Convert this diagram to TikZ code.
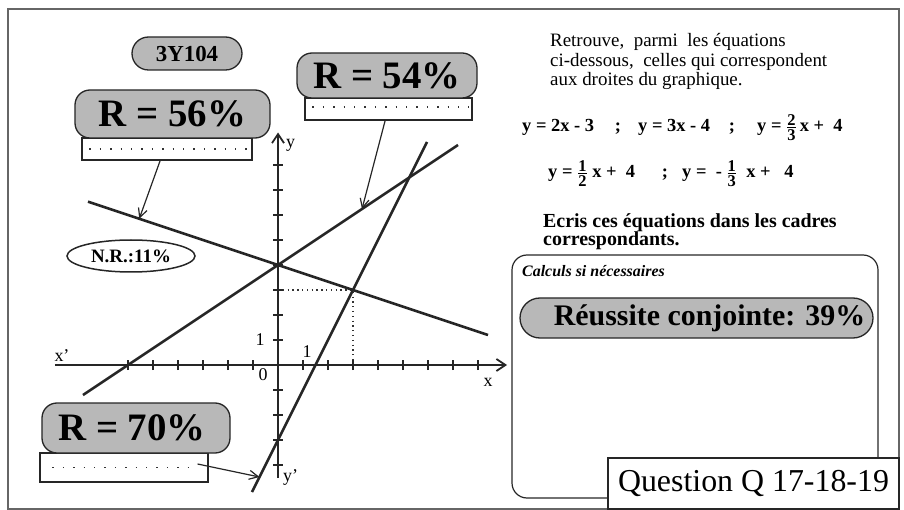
\documentclass[tikz,border=0pt]{standalone}
\usepackage{fontspec}
\setmainfont{Liberation Serif}
\usetikzlibrary{arrows.meta,calc,shapes.geometric}
\newcommand\fsz[1]{\fontsize{#1}{#1}\selectfont}
\newcommand\myfr[2]{${\hbox{\fsz{16.5}\bfseries #1}\above 1pt\hbox{\fsz{16.5}\bfseries #2}}$}
\tikzset{
  ink/.style={draw=black!85},
  pill/.style={ink, line width=1.3bp, fill=black!28, rounded corners=#1, inner sep=0pt, font=\fsz{39}\bfseries},
  pill/.default=15bp,
  wbox/.style={ink, line width=1.2bp, fill=white, inner sep=0pt},
  dots/.style={draw=black!80, line width=1.4bp, dash pattern=on 1.4bp off 9bp},
  gline/.style={ink, line width=2.6bp},
  axisline/.style={ink, line width=2.2bp, -{Straight Barb[length=9bp,width=12bp,line width=1.8bp]}},
  tickmark/.style={ink, line width=2.2bp},
  pointer/.style={ink, line width=1.2bp, -{Straight Barb[length=9bp,width=9bp,line width=1.2bp]}},
  txt/.style={inner sep=0pt, font=\fsz{19}},
  eqf/.style={inner sep=0pt, font=\fsz{18.5}\bfseries},
  lab/.style={inner sep=0pt, font=\fsz{18}},
}
\begin{document}
\begin{tikzpicture}[x=1bp,y=-1bp]
\useasboundingbox (0,0) rectangle (904,510);
% outer frame
\node[draw=black!60, line width=2bp, minimum width=891bp, minimum height=500bp, inner sep=0pt] (frame) at (453.5,259) {};

% ---------- graph ----------
\begin{scope}[shift={(278,365)}, x=25bp, y=25bp]
  \coordinate (O) at (0,0);
  \coordinate (xl) at (-8.92,0);
  \coordinate (xr) at (9.16,0);
  \coordinate (yb) at (0,-4.52);
  \coordinate (yt) at (0,9.3);
  % dotted helper lines
  \coordinate (d0) at (0,3);
  \coordinate (d1) at (3,3);
  \coordinate (d2) at (3,0);
  \draw[draw=black!80, line width=1.2bp, dash pattern=on 1.3bp off 3.5bp] (d0) -- (d1) -- (d2);
  % axes
  \draw[axisline] (xl) -- (xr);
  \draw[axisline] (yb) -- (yt);
  \foreach \i in {-6,...,-1,1,2,...,8} \draw[tickmark] (\i,-0.2) -- (\i,0.2);
  \foreach \j in {-4,...,-1,1,2,...,8} \draw[tickmark] (-0.2,\j) -- (0.2,\j);
  % lines
  \coordinate (a1) at (-7.6,6.5333);
  \coordinate (a2) at (8.4,1.2);
  \coordinate (b1) at (-7.8,-1.2);
  \coordinate (b2) at (7.2,8.8);
  \coordinate (c1) at (-1.04,-5.08);
  \coordinate (c2) at (5.96,8.92);
  \draw[gline] (a1) -- (a2);
  \draw[gline] (b1) -- (b2);
  \draw[gline] (c1) -- (c2);
  % pointer targets
  \coordinate (pA) at (-5.55,5.85);
  \coordinate (pB) at (3.36,6.24);
  \coordinate (pC) at (-0.74,-4.48);
  % axis labels
  \node[lab] (l1y) at (-0.72,1) {1};
  \node[lab] (l1x) at (1.16,0.52) {1};
  \node[lab] (l0) at (-0.6,-0.4) {0};
  \node[lab] (lxp) at (-8.64,0.36) {x'};
  \node[lab] (lx) at (8.4,-0.68) {x};
  \node[lab] (ly) at (0.5,8.8) {y};
  \node[lab] (lyp) at (0.5,-4.5) {y'};
\end{scope}

% ---------- left labels ----------
\node[pill=16.5bp, minimum width=110bp, minimum height=33bp, font=\fsz{23}\bfseries] (id) at (187,53.5) {3Y104};

\node[wbox, minimum width=170bp, minimum height=22bp] (w56) at (167,149) {};
\node[pill, minimum width=195bp, minimum height=48bp] (r56) at (172.5,114) {R = 56\%};
\draw[dots] ($(w56.west)+(8,0)$) -- ($(w56.east)+(-5,0)$);

\node[wbox, minimum width=167bp, minimum height=22bp] (w54) at (388.5,109) {};
\node[pill, minimum width=180bp, minimum height=45bp] (r54) at (387,75.5) {R = 54\%};
\draw[dots] ($(w54.west)+(8,-2)$) -- ($(w54.east)+(-4,-2)$);

\node[wbox, minimum width=168bp, minimum height=29bp] (w70) at (124,467.5) {};
\node[pill, minimum width=188bp, minimum height=50bp] (r70) at (136,428) {R = 70\%\hspace*{8bp}};
\draw[dots] ($(w70.west)+(13,0)$) -- ($(w70.east)+(-15,0)$);
\coordinate (s70) at ($(w70.east)+(-11,-3.5)$);

\node[draw=black!85, line width=1.5bp, ellipse, minimum width=128bp, minimum height=32bp, inner sep=0pt, font=\fsz{19}\bfseries] (nr) at (131,256) {N.R.:11\%};

% pointers
\draw[pointer] ($(w56.south west)!0.46!(w56.south east)$) -- (pA);
\draw[pointer] ($(w54.south west)!0.48!(w54.south east)$) -- (pB);
\draw[pointer] (s70) -- (pC);

% ---------- right side text ----------
\node[txt, anchor=base west] (t1) at (550,47) {Retrouve,\ \ parmi\ \ les équations};
\node[txt, anchor=base west] (t2) at (550,67) {ci-dessous,\ \ celles qui correspondent};
\node[txt, anchor=base west] (t3) at (550,86) {aux droites du graphique.};

\node[eqf, anchor=base west] (e1) at (522,132) {y = 2x - 3};
\node[eqf, anchor=base] (s1) at (618,132) {;};
\node[eqf, anchor=base west] (e2) at (638,132) {y = 3x - 4};
\node[eqf, anchor=base] (s2) at (732,132) {;};
\node[eqf, anchor=base west] (e3) at (757,132) {y = \myfr{2}{3}\,x +\ \ 4};

\node[eqf, anchor=base west] (e4) at (548,178) {y = \myfr{1}{2}\ x +\ \ 4};
\node[eqf, anchor=base] (s3) at (665,178) {;};
\node[eqf, anchor=base west] (e5) at (682,178) {y =\ \ -\ \myfr{1}{3}\ \ x +\ \ \ 4};

\node[txt, font=\fsz{20}\bfseries, anchor=base west] (t4) at (543,228) {Ecris ces équations dans les cadres};
\node[txt, font=\fsz{20}\bfseries, anchor=base west] (t5) at (543,246) {correspondants.};

% calculs box
\node[draw=black!85, line width=1.2bp, rounded corners=15bp, minimum width=366bp, minimum height=243bp, inner sep=0pt] (calc) at (695,376.5) {};
\node[inner sep=0pt, font=\fsz{16}\bfseries\itshape, anchor=base west] (ct) at (522,277) {Calculs si nécessaires};
\node[pill=20bp, minimum width=353bp, minimum height=40bp, font=\fsz{30}\bfseries] (reu) at (696.5,318) {\hspace*{26bp}Réussite conjointe: 39\%};

\node[draw=black!85, line width=1.3bp, fill=white, minimum width=291bp, minimum height=51bp, inner sep=0pt, font=\fsz{32}] (q) at (753.5,483.5) {Question Q 17-18-19};
\end{tikzpicture}
\end{document}
